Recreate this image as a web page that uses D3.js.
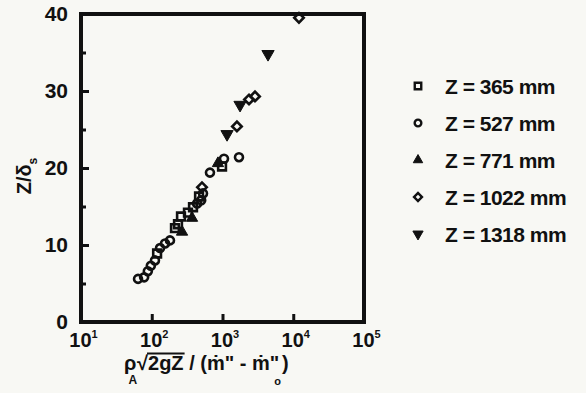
<!DOCTYPE html>
<html>
<head>
<meta charset="utf-8">
<script src="https://cdn.jsdelivr.net/npm/d3@7"></script>
<style>
body { margin: 0; background: #f8f8f4; }
svg { display: block; }
text { font-family: "Liberation Sans", "DejaVu Sans", Arial, sans-serif; font-weight: bold; fill: #111; }
</style>
</head>
<body>
<div class="container"></div>
<script>
// legend labels, one per series
const labels = ["Z = 365 mm", "Z = 527 mm", "Z = 771 mm", "Z = 1022 mm", "Z = 1318 mm"];

// values (x is log scale)
const x365 = [119, 213, 235, 259, 325, 383, 466, 985];
const y365 = [8.9, 12.2, 12.7, 13.7, 14.2, 14.9, 16.3, 20.2];

const x527 = [64, 78, 88, 97, 111, 131, 154, 181, 437, 500, 530, 665, 1050, 1710];
const y527 = [5.6, 5.8, 6.6, 7.3, 8.0, 9.6, 10.2, 10.6, 15.4, 15.8, 16.7, 19.4, 21.2, 21.4];

const x771 = [268, 371, 863];
const y771 = [11.7, 13.5, 20.6];

const x1022 = [513, 1600, 2370, 2880, 12050];
const y1022 = [17.5, 25.4, 28.9, 29.3, 39.5];

const x1318 = [1160, 1770, 4400];
const y1318 = [24.4, 28.2, 34.8];

// ticks
const xTicks = [1e1, 1e2, 1e3, 1e4, 1e5];
const xExponents = ["1", "2", "3", "4", "5"];
const yTicks = [0, 10, 20, 30, 40];
const yMinorTicks = [5, 15, 25, 35];


// dimensions
const W = 586, H = 393;
const margin = { top: 14, right: 222, bottom: 71, left: 81 };
const width = W - margin.left - margin.right;
const height = H - margin.top - margin.bottom;

const svg = d3.select('.container')
    .append('svg')
    .attr('width', W)
    .attr('height', H);

const group = svg.append('g')
    .attr('transform', `translate(${margin.left}, ${margin.top})`);


// scales
const xScale = d3.scaleLog()
    .domain([1e1, 1e5])
    .range([0, width]);

const yScale = d3.scaleLinear()
    .domain([0, 40])
    .range([height, 0]);


// frame as four thin filled bars (thickness 4)
const t = 4;
const [x0, x1] = xScale.range();
const [yb, yt] = yScale.range();
const bars = [
    { x: x0 - t / 2, y: yt - t / 2, w: x1 - x0 + t, h: t },   // top
    { x: x0 - t / 2, y: yb - t / 2, w: x1 - x0 + t, h: t },   // bottom
    { x: x0 - t / 2, y: yt - t / 2, w: t, h: yb - yt + t },   // left
    { x: x1 - t / 2, y: yt - t / 2, w: t, h: yb - yt + t }    // right
];
group.selectAll('rect.frame')
    .data(bars)
    .enter()
    .append('rect')
    .attr('class', 'frame')
    .attr('x', d => d.x)
    .attr('y', d => d.y)
    .attr('width', d => d.w)
    .attr('height', d => d.h)
    .attr('fill', '#111');


// y axis, ticks point inward
const yAxis = d3.axisLeft(yScale)
    .tickValues(yTicks)
    .tickSize(-8)
    .tickPadding(13);

const yG = group.append('g').call(yAxis);
yG.select('.domain').remove();
yG.selectAll('.tick line').attr('stroke', '#111').attr('stroke-width', 3);
yG.selectAll('text')
    .attr('font-size', null)
    .style('font-size', '21px')
    .attr('font-family', null);

const yMinor = group.append('g')
    .call(d3.axisLeft(yScale).tickValues(yMinorTicks).tickSize(-5).tickFormat(''));
yMinor.select('.domain').remove();
yMinor.selectAll('.tick line').attr('stroke', '#111').attr('stroke-width', 3);


// x axis with 10^n labels
const xAxis = d3.axisBottom(xScale)
    .tickValues(xTicks)
    .tickSize(-8)
    .tickFormat('');

const xG = group.append('g')
    .attr('transform', `translate(0, ${height})`)
    .call(xAxis);
xG.select('.domain').remove();
xG.selectAll('.tick line').attr('stroke', '#111').attr('stroke-width', 3);
xG.selectAll('text')
    .attr('font-size', null)
    .attr('font-family', null)
    .attr('y', 25)
    .attr('dy', null)
    .attr('dx', 2)
    .each(function (d, i) {
        const tx = d3.select(this).style('font-size', '20px');
        tx.append('tspan').text('10');
        tx.append('tspan').attr('dy', -9).style('font-size', '11px').text(xExponents[i]);
    });


// symbols
const series = [
    { xs: x365, ys: y365, type: d3.symbolSquare, size: 60, fill: false, rot: 0 },
    { xs: x527, ys: y527, type: d3.symbolCircle, size: 50, fill: false, rot: 0 },
    { xs: x771, ys: y771, type: d3.symbolTriangle, size: 55, fill: true, rot: 0 },
    { xs: x1022, ys: y1022, type: d3.symbolSquare, size: 45, fill: false, rot: 45 },
    { xs: x1318, ys: y1318, type: d3.symbolTriangle, size: 65, fill: true, rot: 180 }
];

series.forEach(s => {
    const pts = s.xs.map((x, i) => ({ x: x, y: s.ys[i] }));
    group.selectAll(null)
        .data(pts)
        .enter()
        .append('path')
        .attr('d', d3.symbol().type(s.type).size(s.size))
        .attr('transform', d => `translate(${xScale(d.x)}, ${yScale(d.y)}) rotate(${s.rot})`)
        .attr('fill', s.fill ? '#111' : 'none')
        .attr('stroke', '#111')
        .attr('stroke-width', s.fill ? 1 : 2.6);
});


// legend
const legend = svg.append('g');
const rowY = [86, 123, 160, 197, 234];

labels.forEach((label, i) => {
    const s = series[i];
    legend.append('path')
        .attr('d', d3.symbol().type(s.type).size(s.size * 0.7))
        .attr('transform', `translate(418, ${rowY[i]}) rotate(${s.rot})`)
        .attr('fill', s.fill ? '#111' : 'none')
        .attr('stroke', '#111')
        .attr('stroke-width', s.fill ? 1 : 2.4);
    legend.append('text')
        .attr('x', 445)
        .attr('y', rowY[i] + 8)
        .style('font-size', '21px')
        .style('letter-spacing', '-0.5px')
        .text(label);
});


// y title  Z/δs
const yTitle = svg.append('text')
    .attr('transform', 'translate(31, 176) rotate(-90)')
    .attr('text-anchor', 'middle')
    .style('font-size', '20px');
yTitle.append('tspan').text('Z/δ');
yTitle.append('tspan').attr('dy', 6).style('font-size', '12px').text('s');


// x title  ρA √2gZ / (ṁ" - ṁ"o)
const xTitle = svg.append('text')
    .attr('x', 124)
    .attr('y', 370)
    .style('font-size', '20px');
xTitle.append('tspan').text('ρ');
xTitle.append('tspan').attr('dx', -8).attr('dy', 14).style('font-size', '12px').text('A');
xTitle.append('tspan').attr('dy', -14).text('√');
xTitle.append('tspan').text('2gZ');
xTitle.append('tspan').text(' / (\u1E41" - \u1E41"');
xTitle.append('tspan').attr('dx', -5).attr('dy', 15).style('font-size', '11px').text('o');
xTitle.append('tspan').attr('dx', 1).attr('dy', -15).text(')');

// overline of the root
const tn = xTitle.node();
const rootBox = tn.getExtentOfChar(2);
const zEnd = tn.getEndPositionOfChar(5);
svg.append('rect')
    .attr('x', rootBox.x + rootBox.width - 1)
    .attr('y', rootBox.y + 0.5)
    .attr('width', zEnd.x + 1 - (rootBox.x + rootBox.width - 1))
    .attr('height', 2)
    .attr('fill', '#111');
</script>
</body>
</html>
